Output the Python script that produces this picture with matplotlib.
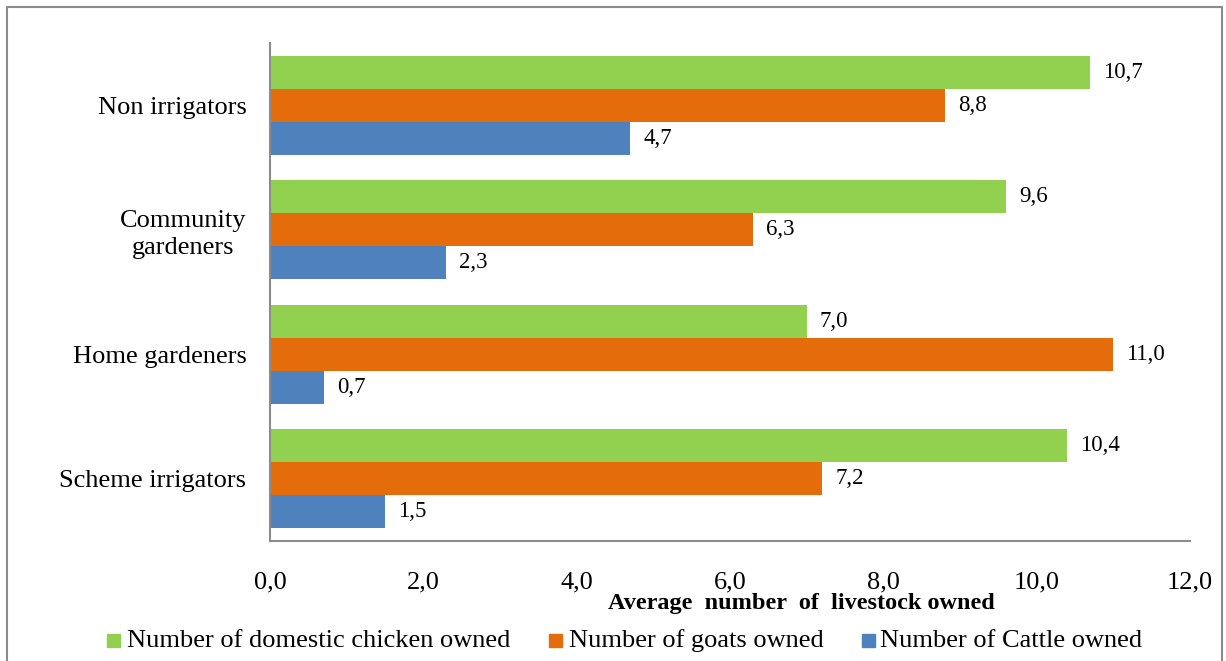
import matplotlib
matplotlib.use("Agg")
import matplotlib.pyplot as plt
from matplotlib.patches import Rectangle
import numpy as np

# Livestock ownership by farmer group
categories = ["Scheme irrigators", "Home gardeners", "Community\ngardeners", "Non irrigators"]
chicken = [10.4, 7.0, 9.6, 10.7]
goats = [7.2, 11.0, 6.3, 8.8]
cattle = [1.5, 0.7, 2.3, 4.7]
series_names = ["Number of domestic chicken owned", "Number of goats owned", "Number of Cattle owned"]
x_ticks = [0, 2, 4, 6, 8, 10, 12]

colors = ["#92D050", "#E46C0A", "#4F81BD"]
W, H = 1226, 661
plt.rcParams["font.family"] = ["Liberation Serif", "DejaVu Serif"]

fig = plt.figure(figsize=(W / 100, H / 100), dpi=100)
ax = fig.add_axes([270 / W, (H - 541) / H, (1190 - 270) / W, (541 - 43) / H])

y = np.arange(len(categories))
h = 0.265
offsets = [h, 0.0, -h]
for vals, off, col in zip([chicken, goats, cattle], offsets, colors):
    bars = ax.barh(y + off, vals, height=h, color=col, edgecolor="none")
    for b, v in zip(bars, vals):
        ax.text(b.get_width() + 0.17, b.get_y() + b.get_height() / 2,
                f"{v:.1f}".replace(".", ","), va="center", ha="left", fontsize=16.5)

ax.set_xlim(0, 12)
ax.set_ylim(-0.5, len(categories) - 0.5)
ax.set_xticks(x_ticks)
ax.set_xticklabels([f"{t:.1f}".replace(".", ",") for t in x_ticks], fontsize=19)
ax.set_yticks(y)
ax.set_yticklabels(categories, fontsize=19, linespacing=1.3, multialignment="center")
ax.tick_params(axis="x", length=0, pad=22)
ax.tick_params(axis="y", length=0, pad=17)
for s in ["top", "right"]:
    ax.spines[s].set_visible(False)
for s in ["left", "bottom"]:
    ax.spines[s].set_color("#8C8C8C")
    ax.spines[s].set_linewidth(1.5)

fig.text(801 / W, (H - 603) / H, "Average  number  of  livestock owned",
         ha="center", va="center", fontsize=17.5, fontweight="bold")

# Legend row
legend_items = [(107, 127), (549, 569), (862, 880)]
for (sx, tx), name, col in zip(legend_items, series_names, colors):
    fig.add_artist(Rectangle((sx / W, (H - 647) / H), 13 / W, 13 / H,
                             transform=fig.transFigure, color=col))
    fig.text(tx / W, (H - 641) / H, name, ha="left", va="center", fontsize=19)

# Outer frame
fig.add_artist(Rectangle((7 / W, -0.05), (1222 - 7) / W, (H - 7) / H + 0.05,
                         transform=fig.transFigure, fill=False,
                         edgecolor="#8C8C8C", linewidth=1.5))

fig.savefig("out.png", dpi=100)
